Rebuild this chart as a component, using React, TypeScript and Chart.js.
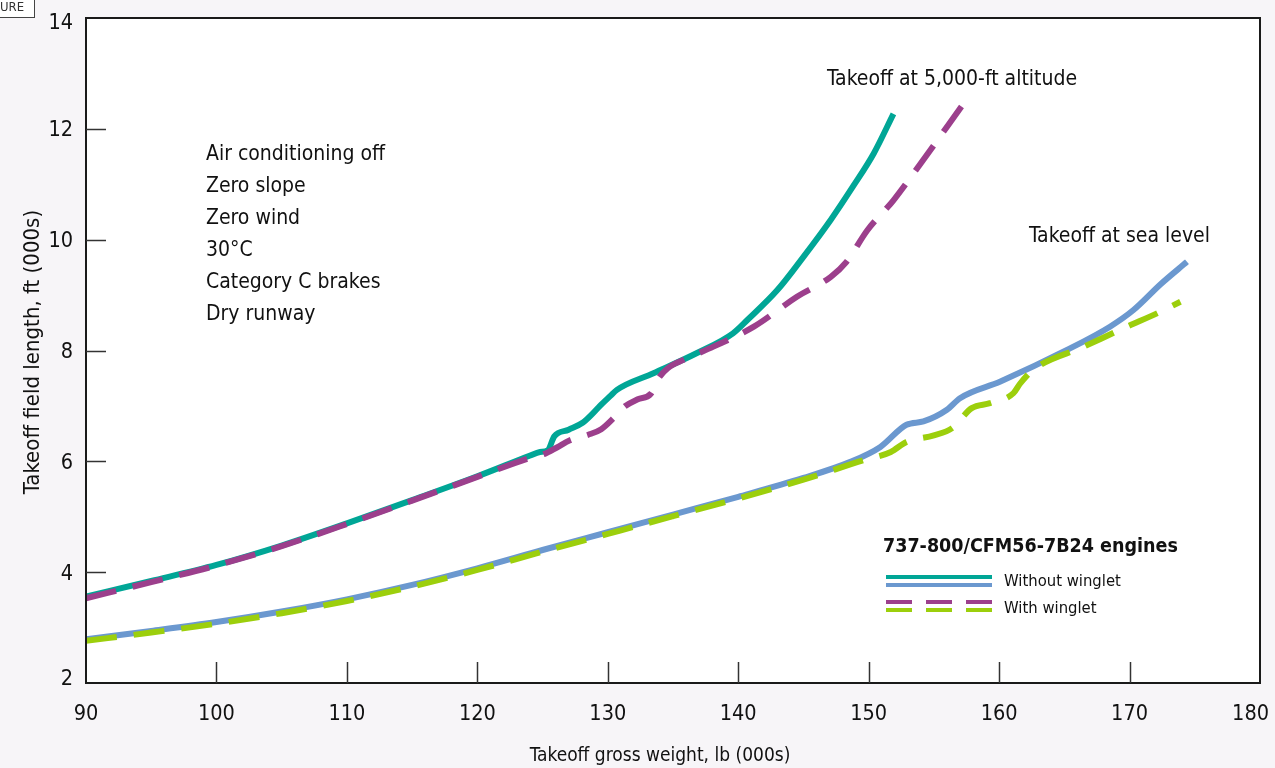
import React, { useEffect, useRef } from "react";
import { Chart, registerables } from "chart.js";

Chart.register(...registerables);

// ---- Data (weights in 000s lb, field length in 000s ft) ----
const xTickValues = [90, 100, 110, 120, 130, 140, 150, 160, 170, 180];
const yTickValues = [2, 4, 6, 8, 10, 12, 14];

const altNoWingletX = [90, 95, 100, 105, 110, 115, 120, 124, 124.8, 125.4, 125.9, 127, 128.1, 128.8, 129.4, 130.2, 130.7, 133.5, 136.8, 139.6, 140.7, 143, 145, 147.1, 148.8, 150.4, 151.9];
const altNoWingletY = [3.56, 3.84, 4.13, 4.48, 4.88, 5.3, 5.73, 6.1, 6.17, 6.2, 6.45, 6.57, 6.7, 6.85, 7.0, 7.18, 7.29, 7.59, 7.95, 8.31, 8.55, 9.09, 9.69, 10.36, 10.96, 11.56, 12.27];

const altWingletX = [90, 95, 100, 105, 110, 115, 120, 124, 125.1, 126.1, 127.1, 128.5, 129.5, 130.4, 131.3, 132.3, 133.3, 133.9, 134.6, 135.8, 138.1, 141.2, 144.5, 147.1, 148.3, 149.9, 151.9, 154, 157.2];
const altWingletY = [3.53, 3.82, 4.12, 4.47, 4.87, 5.29, 5.72, 6.06, 6.13, 6.25, 6.38, 6.48, 6.58, 6.77, 6.99, 7.12, 7.22, 7.5, 7.68, 7.83, 8.07, 8.43, 8.97, 9.33, 9.6, 10.17, 10.71, 11.38, 12.43];

const seaNoWingletX = [90, 95, 100, 105, 110, 115, 120, 125, 130, 135, 140, 145, 148.6, 150.9, 152.9, 154.2, 156, 157, 160.1, 165.2, 168.5, 170.3, 172.4, 174.4];
const seaNoWingletY = [2.79, 2.94, 3.1, 3.29, 3.51, 3.77, 4.07, 4.4, 4.72, 5.04, 5.36, 5.7, 5.99, 6.26, 6.66, 6.72, 6.93, 7.14, 7.44, 8.01, 8.43, 8.73, 9.2, 9.6];

const seaWingletX = [90, 95, 100, 105, 110, 115, 120, 125, 130, 135, 140, 145, 149.6, 151.7, 152.9, 155, 156.4, 157.9, 159.3, 161.1, 161.6, 162.6, 166.5, 169.8, 172.1, 173.9];
const seaWingletY = [2.76, 2.91, 3.07, 3.26, 3.48, 3.74, 4.04, 4.37, 4.69, 5.01, 5.33, 5.67, 6.02, 6.17, 6.35, 6.47, 6.6, 6.96, 7.05, 7.23, 7.4, 7.65, 8.07, 8.43, 8.67, 8.88];

const conditions = ["Air conditioning off", "Zero slope", "Zero wind", "30\u00B0C", "Category C brakes", "Dry runway"];
const legendTitle = "737-800/CFM56-7B24 engines";
const legendSolid = "Without winglet";
const legendDashed = "With winglet";
const labelAltitude = "Takeoff at 5,000-ft altitude";
const labelSea = "Takeoff at sea level";
const xTitle = "Takeoff gross weight, lb (000s)";
const yTitle = "Takeoff field length, ft (000s)";

const TEAL = "#00a696";
const PURPLE = "#9c3f8c";
const BLUE = "#6b98cf";
const GREEN = "#9ccf0c";
const BG = "#f7f5f8";
const FONT = "'Liberation Sans Narrow', 'DejaVu Sans Condensed', 'Arial Narrow', sans-serif";
const DASH = [31, 17];

const zip = (xs: number[], ys: number[]) => xs.map((x, i) => ({ x, y: ys[i] }));

const decorPlugin = {
  id: "decor",
  beforeDraw(chart: any) {
    const { ctx, chartArea: a } = chart;
    ctx.save();
    ctx.fillStyle = BG;
    ctx.fillRect(0, 0, chart.width, chart.height);
    ctx.fillStyle = "#ffffff";
    ctx.fillRect(a.left, a.top, a.right - a.left, a.bottom - a.top);
    ctx.restore();
  },
  afterDraw(chart: any) {
    const { ctx, chartArea: a } = chart;
    const xs = chart.scales.x;
    const ys = chart.scales.y;
    ctx.save();
    // frame
    ctx.strokeStyle = "#1a1a1a";
    ctx.lineWidth = 2;
    ctx.strokeRect(a.left, a.top, a.right - a.left, a.bottom - a.top);
    // ticks inside
    ctx.lineWidth = 1.5;
    ctx.strokeStyle = "#333";
    xTickValues.slice(1, -1).forEach((v) => {
      const px = Math.round(xs.getPixelForValue(v)) + 0.5;
      ctx.beginPath();
      ctx.moveTo(px, a.bottom);
      ctx.lineTo(px, a.bottom - 21);
      ctx.stroke();
    });
    yTickValues.slice(1, -1).forEach((v) => {
      const py = Math.round(ys.getPixelForValue(v)) + 0.5;
      ctx.beginPath();
      ctx.moveTo(a.left, py);
      ctx.lineTo(a.left + 20, py);
      ctx.stroke();
    });

    ctx.fillStyle = "#111";
    ctx.textBaseline = "middle";

    // tick labels
    ctx.font = `21.5px ${FONT}`;
    ctx.textAlign = "center";
    xTickValues.forEach((v) => {
      const t = String(v);
      const w = ctx.measureText(t).width;
      let px = xs.getPixelForValue(v);
      px = Math.min(px, chart.width - w / 2 - 6);
      ctx.fillText(t, px, 714);
    });
    ctx.textAlign = "right";
    yTickValues.forEach((v) => {
      let py = ys.getPixelForValue(v) + 2;
      py = Math.max(a.top + 5, Math.min(a.bottom - 4, py));
      ctx.fillText(String(v), 73, py);
    });

    // axis titles
    ctx.font = `19px ${FONT}`;
    ctx.textAlign = "center";
    ctx.fillText(xTitle, 660, 756);
    ctx.save();
    ctx.translate(33, 352);
    ctx.rotate(-Math.PI / 2);
    ctx.font = `22px ${FONT}`;
    ctx.fillText(yTitle, 0, 0);
    ctx.restore();

    // conditions
    ctx.textAlign = "left";
    ctx.font = `21px ${FONT}`;
    conditions.forEach((t, i) => ctx.fillText(t, 206, 155 + i * 32));

    // curve labels
    ctx.fillText(labelAltitude, 827, 80);
    ctx.fillText(labelSea, 1029, 237);

    // legend
    ctx.font = `bold 19.5px ${FONT}`;
    ctx.fillText(legendTitle, 883, 547);
    ctx.font = `16.5px ${FONT}`;
    ctx.fillText(legendSolid, 1004, 582);
    ctx.fillText(legendDashed, 1004, 609);
    ctx.lineCap = "butt";
    ctx.lineWidth = 4;
    const seg = (color: string, y: number, dash: number[]) => {
      ctx.setLineDash(dash);
      ctx.strokeStyle = color;
      ctx.beginPath();
      ctx.moveTo(886, y);
      ctx.lineTo(992, y);
      ctx.stroke();
    };
    seg(TEAL, 577, []);
    seg(BLUE, 585, []);
    seg(PURPLE, 602, [26, 14]);
    seg(GREEN, 610, [26, 14]);
    ctx.setLineDash([]);

    // corner tag
    ctx.fillStyle = "#ffffff";
    ctx.fillRect(-2, -2, 36, 19);
    ctx.strokeStyle = "#444";
    ctx.lineWidth = 1;
    ctx.strokeRect(-2, -2, 36.5, 19.5);
    ctx.fillStyle = "#333";
    ctx.font = `13px ${FONT}`;
    ctx.textAlign = "left";
    ctx.fillText("URE", 0, 8);
    ctx.restore();
  },
};

export default function App() {
  const canvasRef = useRef<HTMLCanvasElement | null>(null);

  useEffect(() => {
    document.body.style.margin = "0";
    document.body.style.background = BG;
    const canvas = canvasRef.current;
    if (!canvas) return;
    const lineBase = {
      pointRadius: 0,
      pointHoverRadius: 0,
      borderWidth: 6,
      fill: false,
      cubicInterpolationMode: "monotone" as const,
      borderCapStyle: "butt" as const,
      borderJoinStyle: "round" as const,
    };
    const chart = new Chart(canvas, {
      type: "line",
      data: {
        datasets: [
          { ...lineBase, label: "Altitude, with winglet", data: zip(altWingletX, altWingletY), borderColor: PURPLE, borderDash: DASH, order: 0 },
          { ...lineBase, label: "Altitude, without winglet", data: zip(altNoWingletX, altNoWingletY), borderColor: TEAL, order: 1 },
          { ...lineBase, label: "Sea level, with winglet", data: zip(seaWingletX, seaWingletY), borderColor: GREEN, borderDash: DASH, order: 0 },
          { ...lineBase, label: "Sea level, without winglet", data: zip(seaNoWingletX, seaNoWingletY), borderColor: BLUE, order: 1 },
        ],
      },
      options: {
        animation: false,
        responsive: true,
        maintainAspectRatio: false,
        parsing: false as any,
        layout: { padding: { left: 0, right: 15, top: 18, bottom: 0 } },
        plugins: { legend: { display: false }, tooltip: { enabled: false }, title: { display: false } },
        events: [],
        scales: {
          x: {
            type: "linear",
            min: 90,
            max: 180,
            afterBuildTicks: (s: any) => { s.ticks = xTickValues.map((v) => ({ value: v })); },
            afterFit: (s: any) => { s.height = 85; s.paddingLeft = 0; s.paddingRight = 0; },
            grid: { display: false, drawTicks: false },
            border: { display: false },
            ticks: { display: false },
          },
          y: {
            type: "linear",
            min: 2,
            max: 14,
            afterBuildTicks: (s: any) => { s.ticks = yTickValues.map((v) => ({ value: v })); },
            afterFit: (s: any) => { s.width = 86; s.paddingTop = 0; s.paddingBottom = 0; },
            grid: { display: false, drawTicks: false },
            border: { display: false },
            ticks: { display: false },
          },
        },
      },
      plugins: [decorPlugin],
    });
    return () => chart.destroy();
  }, []);

  return (
    <div style={{ position: "fixed", left: 0, top: 0, width: 1275, height: 768, background: BG }}>
      <canvas ref={canvasRef} />
    </div>
  );
}
